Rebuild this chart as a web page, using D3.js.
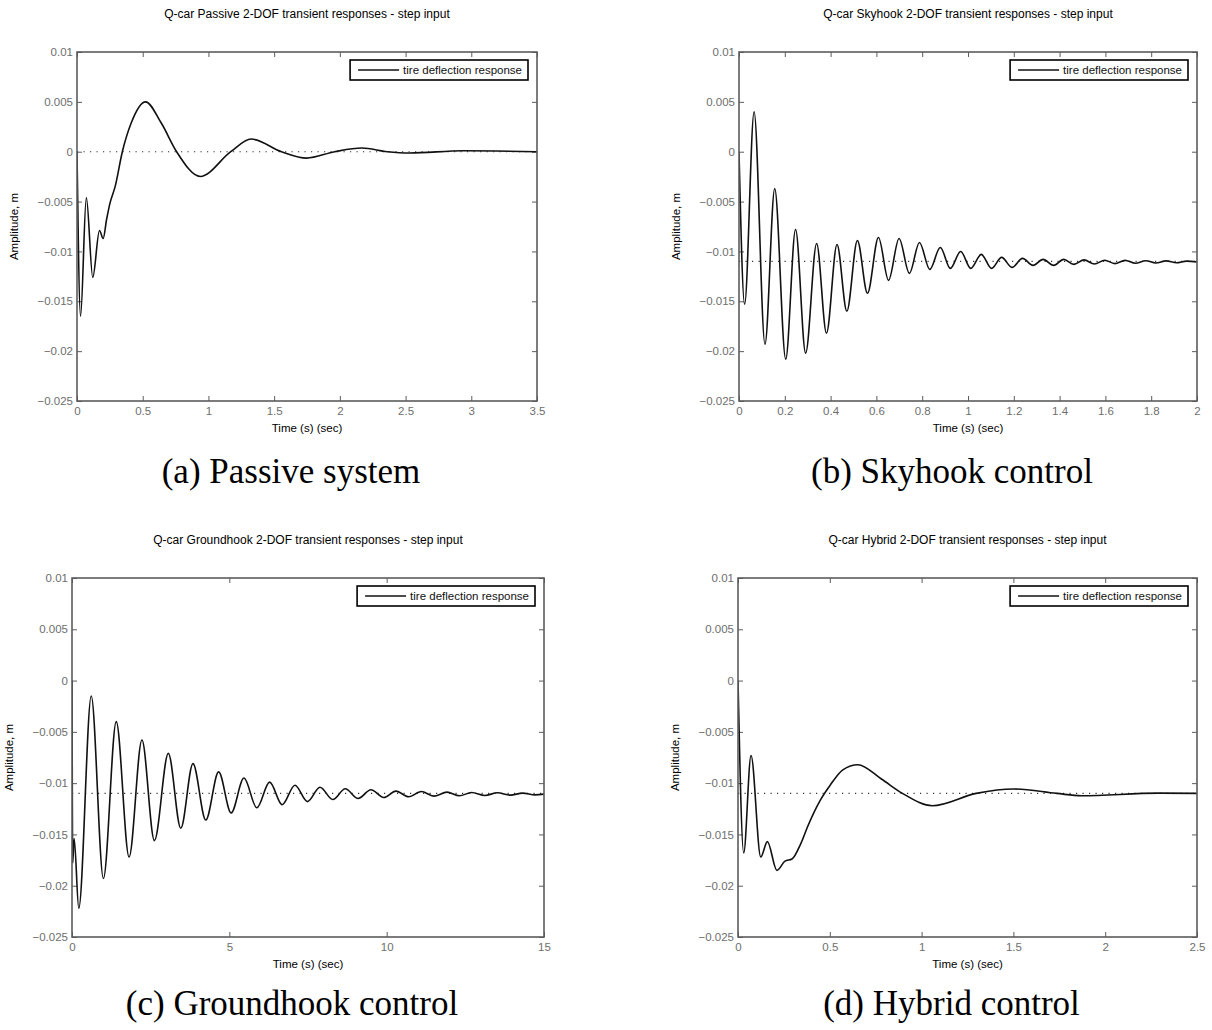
<!doctype html>
<html>
<head>
<meta charset="utf-8">
<title>Q-car tire deflection responses</title>
<script src="https://d3js.org/d3.v7.min.js"></script>
<style>
    html, body { margin: 0; padding: 0; background: #fff; }
    svg text { font-family: "Liberation Sans", Arial, sans-serif; }
    svg text.caption { font-family: "Liberation Serif", "Times New Roman", serif; }
</style>
<script>
// values: [time (s), tire deflection (m)]
var passiveResp = [
    [0, 0], [0.027, -0.0165], [0.071, -0.0046], [0.12, -0.0126], [0.171, -0.0079],
    [0.199, -0.0087], [0.225, -0.0068], [0.25, -0.0052], [0.29, -0.0035], [0.345, 0],
    [0.413, 0.0029], [0.522, 0.005], [0.64, 0.0029], [0.758, 0], [0.938, -0.00248],
    [1.17, 0], [1.325, 0.00127], [1.556, 0], [1.746, -0.00064], [1.96, 0],
    [2.167, 0.00037], [2.36, 0], [2.53, -0.00013], [2.94, 0.0001], [3.5, 0]
]
var skyhookResp = [
    [0, 0], [0.0245, -0.0153], [0.066, 0.004], [0.1135, -0.0193], [0.156, -0.0037],
    [0.204, -0.0208], [0.247, -0.0078], [0.291, -0.0202], [0.339, -0.0092], [0.382, -0.0182],
    [0.428, -0.0093], [0.471, -0.016], [0.517, -0.0089], [0.561, -0.0142], [0.609, -0.0086],
    [0.653, -0.0129], [0.699, -0.0087], [0.744, -0.0122], [0.788, -0.0091], [0.833, -0.0118],
    [0.879, -0.0096], [0.923, -0.0117], [0.968, -0.01], [1.012, -0.0117], [1.058, -0.0103],
    [1.103, -0.0117], [1.147, -0.0106], [1.192, -0.0116], [1.238, -0.0107], [1.284, -0.0114],
    [1.328, -0.0108], [1.374, -0.0114], [1.418, -0.0108], [1.462, -0.0113], [1.507, -0.01085],
    [1.552, -0.01126], [1.597, -0.01088], [1.641, -0.01122], [1.686, -0.0109], [1.731, -0.01119],
    [1.776, -0.01093], [1.82, -0.01116], [1.865, -0.01095], [1.91, -0.01114], [1.955, -0.01097],
    [2.0, -0.01106]
]
var groundhookResp = [
    [0, 0], [0.023, -0.0178], [0.068, -0.0154], [0.215, -0.0222], [0.612, -0.0015],
    [0.998, -0.0193], [1.406, -0.004], [1.814, -0.0172], [2.222, -0.0058], [2.619, -0.0156],
    [3.061, -0.0071], [3.458, -0.0144], [3.844, -0.0081], [4.252, -0.0136], [4.66, -0.0089],
    [5.057, -0.0129], [5.465, -0.0095], [5.873, -0.0124], [6.281, -0.0099], [6.678, -0.0121],
    [7.086, -0.0102], [7.483, -0.0118], [7.88, -0.0104], [8.288, -0.0116], [8.685, -0.01055],
    [9.093, -0.0115], [9.501, -0.01065], [9.909, -0.0114], [10.295, -0.01078], [10.703, -0.01133],
    [11.1, -0.01081], [11.497, -0.01127], [11.916, -0.01088], [12.313, -0.01123], [12.7, -0.01091],
    [13.12, -0.0112], [13.52, -0.01094], [13.93, -0.01117], [14.32, -0.01097], [14.72, -0.01114],
    [15, -0.01107]
]
var hybridResp = [
    [0, 0], [0.031, -0.0168], [0.071, -0.0073], [0.124, -0.0172], [0.16, -0.0157],
    [0.212, -0.0185], [0.256, -0.0176], [0.294, -0.0174], [0.342, -0.0159], [0.38, -0.0142],
    [0.447, -0.0117], [0.502, -0.0102], [0.571, -0.0087], [0.653, -0.0082], [0.781, -0.0096],
    [0.896, -0.011], [1.058, -0.0122], [1.297, -0.011], [1.501, -0.01057], [1.736, -0.011],
    [1.87, -0.01123], [2.29, -0.01097], [2.5, -0.011]
]

var yTicks = [0.01, 0.005, 0, -0.005, -0.01, -0.015, -0.02, -0.025]
var xTicksPassive = [0, 0.5, 1, 1.5, 2, 2.5, 3, 3.5]
var xTicksSkyhook = [0, 0.2, 0.4, 0.6, 0.8, 1, 1.2, 1.4, 1.6, 1.8, 2]
var xTicksGroundhook = [0, 5, 10, 15]
var xTicksHybrid = [0, 0.5, 1, 1.5, 2, 2.5]

var titles = [
    "Q-car Passive 2-DOF transient responses - step input",
    "Q-car Skyhook 2-DOF transient responses - step input",
    "Q-car Groundhook 2-DOF transient responses - step input",
    "Q-car Hybrid 2-DOF transient responses - step input"
]
var captions = ["(a) Passive system", "(b) Skyhook control", "(c) Groundhook control", "(d) Hybrid control"]
var steadyState = [0, -0.011, -0.011, -0.011]
var legendLabel = "tire deflection response"
</script>

<script>
document.addEventListener("DOMContentLoaded", function () {
    var svg = d3.select("#chart").append("svg")
        .attr("width", 1212).attr("height", 1030)

    var fmt = function (d) {
        return String(+d.toFixed(4)).replace("-", "\u2212")
    }
    var axisColor = "#5c5c5c"

    function drawPanel(i, box, data, xTicks, capDy) {
        var x = d3.scaleLinear().domain([xTicks[0], xTicks[xTicks.length - 1]]).range([box.l, box.r])
        var y = d3.scaleLinear().domain([-0.025, 0.01]).range([box.b, box.t])
        var g = svg.append("g")

        // ticks on all four sides, pointing inward
        var ax = [
            [d3.axisBottom(x).tickValues(xTicks).tickFormat(fmt), box.b, 0],
            [d3.axisTop(x).tickValues(xTicks).tickFormat(""), box.t, 0],
            [d3.axisLeft(y).tickValues(yTicks).tickFormat(fmt), 0, box.l],
            [d3.axisRight(y).tickValues(yTicks).tickFormat(""), 0, box.r]
        ]
        ax.forEach(function (a, k) {
            var ag = g.append("g")
                .attr("transform", "translate(" + a[2] + "," + a[1] + ")")
                .call(a[0].tickSize(-5).tickSizeOuter(0).tickPadding(k == 0 ? 6 : 4))
            ag.select(".domain").remove()
            ag.selectAll(".tick line").attr("stroke", axisColor).attr("stroke-width", 1)
            ag.selectAll(".tick text")
                .attr("fill", "#6e6e6e")
                .style("font-size", "11.5px")
        })

        var clipId = "clip" + i
        g.append("clipPath").attr("id", clipId).append("rect")
            .attr("x", box.l).attr("y", box.t).attr("width", box.r - box.l).attr("height", box.b - box.t)

        // steady-state dotted line
        g.append("line")
            .attr("x1", box.l).attr("x2", box.r)
            .attr("y1", y(steadyState[i])).attr("y2", y(steadyState[i]))
            .attr("stroke", "#333").attr("stroke-width", 1.1)
            .attr("stroke-dasharray", "1.2,5.3")

        var line = d3.line()
            .x(function (d) { return x(d[0]) })
            .y(function (d) { return y(d[1]) })
            .curve(d3.curveMonotoneX)

        g.append("path")
            .datum(data)
            .attr("clip-path", "url(#" + clipId + ")")
            .attr("d", line)
            .attr("fill", "none")
            .attr("stroke", "#111")
            .attr("stroke-width", 1.6)

        g.append("rect")
            .attr("x", box.l).attr("y", box.t)
            .attr("width", box.r - box.l).attr("height", box.b - box.t)
            .attr("fill", "none").attr("stroke", axisColor).attr("stroke-width", 1.6)

        // legend
        var lg = g.append("g")
        var lt = lg.append("text")
            .text(legendLabel)
            .style("font-size", "11.5px")
            .attr("fill", "#111")
        var tw = lt.node().getComputedTextLength()
        var lw = 53 + tw + 6, lx = box.r - 9 - lw, ly = box.t + 8
        lt.attr("x", lx + 53).attr("y", ly + 14)
        lg.insert("rect", "text")
            .attr("x", lx).attr("y", ly).attr("width", lw).attr("height", 20)
            .attr("fill", "#fff").attr("stroke", "#000").attr("stroke-width", 1.6)
        lg.append("line")
            .attr("x1", lx + 8).attr("x2", lx + 49)
            .attr("y1", ly + 10).attr("y2", ly + 10)
            .attr("stroke", "#111").attr("stroke-width", 1.4)

        var cx = (box.l + box.r) / 2
        g.append("text")
            .attr("x", cx).attr("y", box.t - 34)
            .attr("text-anchor", "middle")
            .style("font-size", "12px")
            .text(titles[i])

        g.append("text")
            .attr("x", cx).attr("y", box.b + 31)
            .attr("text-anchor", "middle")
            .style("font-size", "11.5px")
            .text("Time (s) (sec)")

        g.append("text")
            .attr("transform", "translate(" + (box.l - 59) + "," + ((box.t + box.b) / 2) + ") rotate(-90)")
            .attr("text-anchor", "middle")
            .style("font-size", "11.5px")
            .text("Amplitude, m")

        g.append("text")
            .attr("class", "caption")
            .attr("x", cx - 16).attr("y", box.b + capDy)
            .attr("text-anchor", "middle")
            .style("font-size", "35px")
            .text(captions[i])
    }

    drawPanel(0, { l: 77, r: 537, t: 52, b: 401 }, passiveResp, xTicksPassive, 82)
    drawPanel(1, { l: 739, r: 1197, t: 52, b: 401 }, skyhookResp, xTicksSkyhook, 82)
    drawPanel(2, { l: 72, r: 544, t: 578, b: 937 }, groundhookResp, xTicksGroundhook, 78)
    drawPanel(3, { l: 738, r: 1197, t: 578, b: 937 }, hybridResp, xTicksHybrid, 78)
})
</script>
</head>
<body>
    <div id="chart"></div>
</body>
</html>
